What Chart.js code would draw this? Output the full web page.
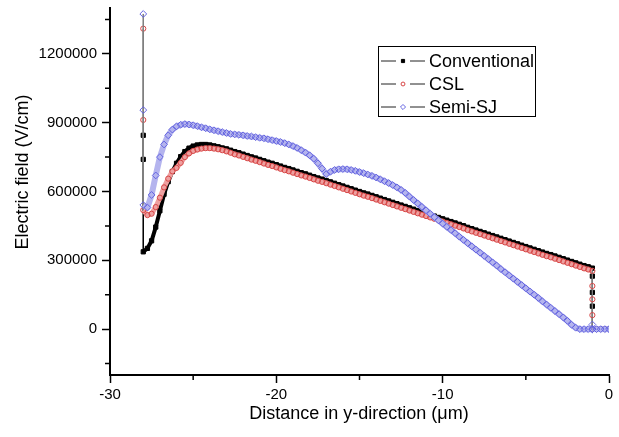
<!DOCTYPE html>
<html>
<head>
<meta charset="utf-8">
<script src="https://cdn.jsdelivr.net/npm/chart.js@4"></script>
<style>
  html, body { margin: 0; padding: 0; background: #fff; }
  #wrap { width: 619px; height: 437px; }
</style>
</head>
<body>
<div id="wrap"><canvas id="field" width="619" height="437"></canvas></div>
<script>
// distance in y-direction (um); -28 and -1 repeat for the vertical jumps
const distance = [
  -28, -28,
  -28, -27.75, -27.5, -27.25, -27, -26.75, -26.5, -26.25, -26, -25.75, -25.5, -25.25, -25, -24.75, -24.5, -24.25, -24, -23.75, -23.5, -23.25, -23,
  -22.75, -22.5, -22.25, -22, -21.75, -21.5, -21.25, -21, -20.75, -20.5, -20.25, -20,
  -19.75, -19.5, -19.25, -19, -18.75, -18.5, -18.25, -18, -17.75, -17.5, -17.25, -17,
  -16.75, -16.5, -16.25, -16, -15.75, -15.5, -15.25, -15, -14.75, -14.5, -14.25, -14,
  -13.75, -13.5, -13.25, -13, -12.75, -12.5, -12.25, -12, -11.75, -11.5, -11.25, -11,
  -10.75, -10.5, -10.25, -10, -9.75, -9.5, -9.25, -9, -8.75, -8.5, -8.25, -8,
  -7.75, -7.5, -7.25, -7, -6.75, -6.5, -6.25, -6, -5.75, -5.5, -5.25, -5,
  -4.75, -4.5, -4.25, -4, -3.75, -3.5, -3.25, -3, -2.75, -2.5, -2.25, -2,
  -1.75, -1.5, -1.25, -1,
  -1, -1, -1, -1,
  -0.75, -0.5, -0.25, 0
];

const conventional = [
  845000, 740000,
  337000, 352000, 385000, 445000, 516000, 588000, 643000, 687000, 723000, 752000, 774000, 789000, 798000, 803000, 805000, 805000, 803000, 799000, 795000, 790000, 786000,
  780000, 774000, 769000, 763000, 757000, 751000, 746000, 740000, 734000, 728000, 723000, 717000,
  711000, 705000, 700000, 694000, 688000, 682000, 677000, 671000, 665000, 659000, 654000, 648000,
  642000, 636000, 630000, 624000, 618000, 612000, 606000, 600000, 594000, 589000, 583000, 577000,
  571000, 565000, 559000, 553000, 547000, 541000, 535000, 529000, 523000, 517000, 511000, 505000,
  499000, 493000, 487000, 481000, 475000, 469000, 463000, 457000, 451000, 444000, 438000, 432000,
  426000, 420000, 414000, 408000, 402000, 396000, 390000, 384000, 378000, 372000, 366000, 360000,
  354000, 348000, 342000, 336000, 330000, 325000, 319000, 313000, 307000, 301000, 295000, 289000,
  283000, 277000, 272000, 266000,
  231000, 160000, 100000, 0,
  0, 0, 0, 0
];

const csl = [
  1310000, 912000,
  519000, 497000, 503000, 532000, 573000, 618000, 656000, 688000, 703000, 725000, 750000, 766000, 777000, 783000, 787000, 789000, 789000, 787000, 784000, 780000, 775000,
  769000, 762000, 757000, 751000, 745000, 739000, 734000, 728000, 722000, 716000, 711000, 705000,
  699000, 693000, 688000, 682000, 676000, 670000, 665000, 659000, 653000, 647000, 642000, 636000,
  630000, 624000, 618000, 612000, 606000, 600000, 594000, 588000, 582000, 577000, 571000, 565000,
  559000, 553000, 547000, 541000, 535000, 529000, 523000, 517000, 511000, 505000, 499000, 493000,
  487000, 481000, 475000, 469000, 463000, 457000, 451000, 445000, 439000, 432000, 426000, 420000,
  414000, 408000, 402000, 396000, 390000, 384000, 378000, 372000, 366000, 360000, 354000, 348000,
  342000, 336000, 330000, 324000, 318000, 313000, 307000, 301000, 295000, 289000, 283000, 277000,
  271000, 265000, 260000, 254000,
  188000, 130000, 61000, 0,
  0, 0, 0, 0
];

const semiSJ = [
  1374000, 955000,
  541000, 530000, 585000, 670000, 750000, 805000, 845000, 870000, 884000, 891000, 894000, 892000, 889000, 885000, 880000, 876000, 871000, 867000, 863000, 859000, 855000,
  851000, 849000, 847000, 845000, 842000, 840000, 837000, 834000, 832000, 828000, 824000, 820000,
  816000, 811000, 805000, 798000, 790000, 780000, 770000, 758000, 743000, 723000, 700000, 676000,
  686000, 694000, 697000, 698000, 697000, 694000, 690000, 685000, 680000, 674000, 668000, 661000,
  653000, 645000, 637000, 628000, 618000, 607000, 594000, 578000, 563000, 548000, 533000, 518000,
  503000, 488000, 474000, 460000, 446000, 432000, 418000, 403000, 389000, 375000, 361000, 347000,
  333000, 319000, 305000, 291000, 277000, 262000, 248000, 234000, 220000, 206000, 192000, 178000,
  164000, 150000, 136000, 121000, 107000, 93000, 79000, 65000, 51000, 36000, 19000, 6000,
  0, 0, 0, 0,
  20000, 0, 0, 0,
  0, 0, 0, 0
];

const xTicks = [-30, -20, -10, 0];
const xMinor = [-25, -15, -5];
const yTicks = [0, 300000, 600000, 900000, 1200000];
const yMinor = [-150000, 150000, 450000, 750000, 1050000, 1350000];

const seriesNames = ['Conventional', 'CSL', 'Semi-SJ'];

const FONT = "'Liberation Sans', Arial, sans-serif";

function pairs(ys) {
  return ys.map((y, i) => ({ x: distance[i], y: y }));
}

const markerStyles = [
  { pointStyle: 'rect', radius: 3, fill: '#000000', stroke: '#000000' },
  { pointStyle: 'circle', radius: 2.6, fill: 'rgba(255,255,255,0)', stroke: 'rgb(215,70,70)' },
  { pointStyle: 'rectRot', radius: 3.4, fill: 'rgba(255,255,255,0)', stroke: 'rgb(100,100,225)' }
];
// the dense marker rows in the original read as a band; a wide soft line under the markers gives it
const bandColors = ['#000000', 'rgb(238,160,160)', 'rgb(180,180,238)'];
const bandWidths = [4, 5, 6];

// extra drawing: minor ticks, axis titles, boxed legend
const decorations = {
  id: 'decorations',
  afterDraw(chart) {
    const ctx = chart.ctx;
    const xs = chart.scales.x, ys = chart.scales.y;
    ctx.save();
    ctx.strokeStyle = '#000';
    ctx.lineWidth = 1.5;
    ctx.beginPath();
    xMinor.forEach(v => {
      const px = xs.getPixelForValue(v);
      ctx.moveTo(px, xs.top);
      ctx.lineTo(px, xs.top + 5);
    });
    yMinor.forEach(v => {
      const py = ys.getPixelForValue(v);
      ctx.moveTo(ys.right, py);
      ctx.lineTo(ys.right - 5, py);
    });
    ctx.stroke();

    // axis titles
    ctx.fillStyle = '#000';
    ctx.font = '18px ' + FONT;
    ctx.textAlign = 'center';
    ctx.textBaseline = 'middle';
    ctx.fillText('Distance in y-direction (\u03bcm)', 359, 414);
    ctx.save();
    ctx.translate(23, 172);
    ctx.rotate(-Math.PI / 2);
    ctx.fillText('Electric field (V/cm)', 0, 0);
    ctx.restore();

    // legend
    ctx.lineWidth = 1;
    ctx.strokeRect(378.5, 46.5, 157, 70);
    const rows = [61, 84, 107];
    seriesNames.forEach((name, i) => {
      const y = rows[i];
      ctx.strokeStyle = '#222';
      ctx.lineWidth = 1;
      ctx.beginPath();
      ctx.moveTo(381, y); ctx.lineTo(396, y);
      ctx.moveTo(410, y); ctx.lineTo(425, y);
      ctx.stroke();
      const m = markerStyles[i];
      ctx.fillStyle = i === 0 ? '#000' : '#fff';
      ctx.strokeStyle = m.stroke;
      Chart.helpers.drawPoint(ctx, {
        pointStyle: m.pointStyle, radius: m.radius * 0.75, rotation: 0, borderWidth: 1
      }, 403, y);
      ctx.fillStyle = '#000';
      ctx.textAlign = 'left';
      ctx.fillText(name, 429, y + 1);
    });
    ctx.restore();
  }
};

const isJump = c => c.p0.parsed.x === c.p1.parsed.x;

const datasets = [conventional, csl, semiSJ].map((ys, i) => ({
  label: seriesNames[i],
  data: pairs(ys),
  order: 3 - i,
  borderColor: bandColors[i],
  borderWidth: bandWidths[i],
  borderJoinStyle: 'round',
  segment: {
    borderColor: c => isJump(c) ? (i === 0 ? '#000' : '#808080') : bandColors[i],
    borderWidth: c => isJump(c) ? 1 : bandWidths[i]
  },
  pointStyle: markerStyles[i].pointStyle,
  pointRadius: markerStyles[i].radius,
  pointBackgroundColor: markerStyles[i].fill,
  pointBorderColor: markerStyles[i].stroke,
  pointBorderWidth: 1,
  tension: 0
}));

new Chart(document.getElementById('field'), {
  type: 'line',
  data: { datasets: datasets },
  options: {
    responsive: false,
    animation: false,
    layout: { padding: { top: 8, right: 10, left: 0, bottom: 0 } },
    plugins: { legend: { display: false }, tooltip: { enabled: false } },
    scales: {
      x: {
        type: 'linear',
        min: -30,
        max: 0,
        afterFit: s => { s.height = 62; s.paddingLeft = 0; s.paddingRight = 0; },
        afterBuildTicks: s => { s.ticks = xTicks.map(v => ({ value: v })); },
        grid: { drawOnChartArea: false, tickLength: 8, tickColor: '#000', tickWidth: 1.5 },
        border: { color: '#000', width: 2 },
        ticks: { color: '#000', font: { family: FONT, size: 15 }, padding: 3, maxRotation: 0 }
      },
      y: {
        type: 'linear',
        min: -200000,
        max: 1400000,
        afterFit: s => { s.width = 110; s.paddingTop = 0; s.paddingBottom = 0; },
        afterBuildTicks: s => { s.ticks = yTicks.map(v => ({ value: v })); },
        grid: { drawOnChartArea: false, tickLength: 8, tickColor: '#000', tickWidth: 1.5 },
        border: { color: '#000', width: 2 },
        ticks: { color: '#000', font: { family: FONT, size: 15 }, padding: 5, callback: v => String(v) }
      }
    }
  },
  plugins: [decorations]
});
</script>
</body>
</html>
